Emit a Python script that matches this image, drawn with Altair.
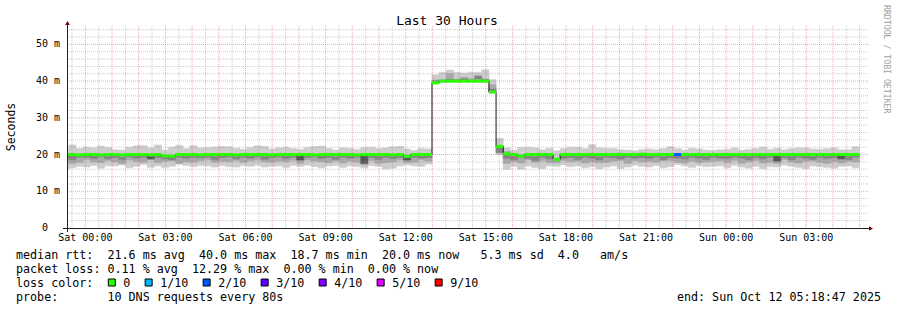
import altair as alt
import pandas as pd

# ------------------------------------------------------------------ data
START_TIME = "2025-10-10T23:18:47"
END_TIME = "2025-10-12T05:18:47"
FIRST_BIN = "2025-10-10T23:07:00"
BIN_MINUTES = 16

# median rtt per bin (ms)
med = [
    19.9, 20.0, 19.9, 20.0, 20.0, 19.9, 20.0, 20.0, 19.9, 20.0,
    20.0, 20.0, 19.9, 20.0, 19.6, 19.6, 20.0, 20.0, 20.0, 19.9,
    20.0, 20.0, 20.0, 20.0, 19.9, 20.0, 20.0, 20.0, 20.0, 19.9,
    20.0, 20.0, 20.0, 20.0, 20.0, 19.9, 20.0, 20.0, 20.0, 20.0,
    20.0, 19.9, 20.0, 20.0, 20.0, 20.0, 19.9, 20.0, 19.5, 20.0,
    20.0, 20.0,
    39.5, 40.0, 40.0, 40.0, 40.0, 40.0, 40.0, 40.0,
    37.0, 22.2,
    20.2, 20.0, 19.6, 20.0, 20.0, 20.0, 20.0, 18.7, 20.0, 20.0,
    20.0, 20.0, 20.0, 20.0, 20.0, 20.0, 20.0, 20.0, 20.0, 20.1,
    20.0, 20.0, 20.0, 20.0, 20.0, 20.0, 20.0, 20.0, 20.0, 20.0,
    20.0, 20.0, 20.0, 20.0, 20.0, 20.0, 20.0, 20.0, 20.0, 20.0,
    20.0, 20.0, 20.0, 20.0, 20.0, 20.0, 20.0, 20.0, 20.0, 20.0,
]
# outer smoke band (min / max ping)
lo = [
    16.0, 16.4, 16.8, 16.6, 17.0, 16.3, 16.9, 16.9, 17.2, 16.4,
    16.8, 17.3, 16.5, 16.9, 16.5, 16.8, 17.4, 17.0, 16.7, 17.0,
    16.9, 16.6, 17.0, 16.7, 16.6, 17.0, 16.8, 17.1, 16.6, 16.8,
    16.9, 16.5, 17.0, 16.8, 17.1, 16.7, 16.4, 16.9, 17.0, 16.5,
    16.9, 16.7, 16.4, 17.0, 16.8, 16.1, 16.3, 16.9, 17.2, 16.9,
    16.8, 17.4,
    39.3, 39.6, 39.6, 39.6, 39.6, 39.6, 39.6, 39.6,
    36.8, 20.0,
    16.0, 16.8, 16.0, 16.9, 16.5, 16.2, 16.9, 16.8, 17.2, 16.7,
    16.9, 16.4, 16.7, 16.1, 16.6, 16.9, 16.2, 16.6, 17.1, 16.8,
    16.6, 17.0, 16.4, 16.7, 17.3, 16.9, 16.5, 17.0, 16.7, 16.8,
    16.9, 16.4, 17.1, 16.6, 16.3, 16.8, 16.2, 16.7, 16.6, 17.1,
    16.8, 16.5, 16.2, 16.9, 16.7, 16.5, 16.3, 16.8, 16.9, 16.4,
]
hi = [
    21.5, 22.6, 21.6, 22.0, 21.8, 22.3, 21.9, 21.3, 21.2, 22.0,
    22.4, 22.4, 21.8, 22.6, 21.2, 22.0, 22.5, 21.6, 22.4, 21.8,
    21.9, 22.0, 22.2, 22.1, 21.7, 21.4, 21.9, 22.4, 22.2, 21.5,
    21.8, 22.0, 21.6, 21.4, 21.9, 22.2, 22.3, 21.6, 21.2, 21.8,
    21.7, 21.4, 21.9, 22.0, 21.6, 21.8, 22.1, 22.2, 21.5, 21.1,
    21.6, 21.5,
    41.7, 42.4, 43.0, 42.4, 42.2, 42.4, 42.4, 43.1,
    40.4, 24.4,
    21.8, 21.2, 21.9, 22.0, 21.8, 21.3, 21.7, 21.0, 21.6, 22.0,
    22.0, 21.6, 22.7, 21.8, 21.7, 21.6, 21.3, 21.2, 21.0, 21.4,
    21.5, 21.3, 21.6, 22.1, 21.6, 21.2, 21.7, 21.5, 21.2, 21.1,
    21.3, 21.4, 21.8, 21.2, 21.4, 21.6, 22.0, 21.4, 21.7, 21.3,
    21.6, 21.8, 21.8, 21.5, 21.4, 21.6, 21.8, 21.3, 21.3, 22.1,
]
# middle smoke band
mlo = [
    18.3, 17.6, 17.9, 18.6, 18.0, 17.8, 18.4, 18.0, 17.5, 18.5,
    18.1, 17.9, 18.6, 17.8, 18.2, 18.4, 17.6, 18.0, 17.9, 18.3,
    18.6, 17.9, 18.2, 18.0, 18.4, 17.9, 18.3, 18.5, 18.0, 17.9,
    18.2, 18.0, 18.4, 17.6, 18.5, 18.2, 18.0, 17.8, 18.3, 17.7,
    18.2, 17.9, 17.2, 18.4, 17.6, 17.8, 18.0, 18.5, 17.8, 17.9,
    18.6, 18.2,
    39.6, 39.9, 39.9, 39.9, 39.9, 39.9, 39.9, 39.9,
    37.2, 20.4,
    17.6, 18.1, 17.7, 18.6, 17.9, 18.3, 17.8, 17.8, 18.4, 18.1,
    18.2, 17.7, 18.0, 17.8, 17.9, 18.2, 18.4, 17.6, 18.3, 18.0,
    18.1, 17.9, 18.3, 18.4, 17.9, 17.7, 18.2, 17.8, 18.0, 18.2,
    18.3, 17.8, 18.4, 17.6, 18.0, 18.4, 17.7, 17.9, 17.6, 18.6,
    18.0, 17.7, 18.2, 18.3, 17.9, 17.6, 18.1, 17.7, 18.2, 18.0,
]
mhi = [
    19.8, 20.0, 19.8, 19.9, 20.0, 19.8, 20.0, 19.9, 19.8, 20.1,
    20.0, 19.9, 19.8, 20.0, 19.6, 19.6, 20.0, 19.9, 20.1, 19.8,
    20.0, 19.9, 20.0, 20.0, 19.8, 20.0, 19.9, 20.1, 20.0, 19.8,
    20.0, 19.9, 20.0, 20.1, 19.9, 19.8, 20.0, 19.9, 20.0, 20.0,
    20.1, 19.8, 20.0, 19.9, 20.0, 20.1, 19.8, 20.0, 19.5, 19.9,
    20.0, 20.0,
    40.3, 40.2, 42.0, 40.4, 41.0, 40.6, 41.5, 40.5,
    39.0, 22.5,
    20.8, 20.0, 19.6, 20.0, 19.9, 20.1, 19.9, 18.7, 20.0, 19.9,
    20.0, 19.9, 20.1, 20.0, 19.8, 20.0, 19.9, 20.0, 20.1, 19.9,
    20.0, 19.8, 20.0, 20.1, 20.0, 19.9, 20.0, 19.8, 20.0, 20.0,
    19.9, 20.0, 20.1, 19.8, 20.0, 19.9, 20.0, 20.0, 20.1, 19.8,
    20.0, 19.9, 20.0, 20.1, 19.8, 20.0, 19.9, 20.0, 20.0, 19.9,
]
# inner (dark) smoke band
dlo = [
    19.2, 18.6, 19.3, 19.3, 18.9, 19.4, 18.8, 19.2, 18.6, 19.4,
    19.0, 19.3, 18.8, 19.2, 18.8, 18.5, 19.3, 19.0, 19.3, 19.1,
    19.3, 18.6, 19.2, 19.4, 18.8, 19.3, 19.0, 19.4, 18.7, 19.2,
    19.4, 18.9, 19.3, 18.5, 19.2, 19.4, 18.9, 19.2, 18.6, 19.3,
    19.0, 19.3, 17.6, 19.2, 18.7, 19.3, 18.9, 19.2, 18.5, 19.3,
    19.0, 19.2,
    40.0, 40.0, 40.2, 40.0, 40.2, 40.0, 40.6, 40.0,
    37.0, 20.6,
    19.0, 18.6, 19.2, 18.9, 18.4, 19.3, 18.8, 18.6, 19.0, 19.2,
    18.7, 19.3, 19.0, 18.6, 19.3, 19.1, 18.8, 19.3, 19.0, 19.2,
    18.9, 19.3, 18.6, 19.2, 19.0, 18.8, 19.3, 19.0, 18.7, 19.3,
    19.0, 18.9, 19.3, 19.0, 18.6, 19.2, 18.8, 19.3, 18.2, 19.2,
    18.6, 19.3, 19.0, 18.7, 19.3, 18.9, 19.2, 18.8, 18.6, 19.3,
]
dhi = [
    19.8, 19.6, 19.8, 19.9, 19.7, 19.8, 19.5, 19.9, 19.3, 19.8,
    19.7, 19.8, 19.9, 19.8, 19.5, 19.4, 19.8, 19.6, 19.8, 19.7,
    19.8, 19.4, 19.8, 19.9, 19.6, 19.8, 19.7, 19.9, 19.5, 19.8,
    19.9, 19.6, 19.8, 19.8, 19.7, 19.9, 19.6, 19.8, 19.4, 19.8,
    19.7, 19.8, 19.7, 19.8, 19.5, 19.8, 19.6, 19.8, 19.4, 19.8,
    19.7, 19.8,
    40.0, 40.3, 40.5, 40.4, 40.6, 40.3, 41.3, 40.4,
    37.8, 21.8,
    19.8, 19.5, 19.5, 19.7, 19.4, 19.8, 19.6, 18.6, 19.7, 19.8,
    19.5, 19.8, 19.7, 19.4, 19.8, 19.7, 19.6, 19.8, 19.7, 19.8,
    19.6, 19.8, 19.4, 19.8, 19.7, 19.5, 19.8, 19.7, 19.5, 19.8,
    19.8, 19.6, 19.8, 19.7, 19.5, 19.8, 19.6, 19.8, 19.7, 19.8,
    19.5, 19.8, 19.7, 19.5, 19.8, 19.6, 19.8, 19.6, 19.5, 19.8,
]
# darkness level of the inner band (1 = dark, 2 = darker)
dlev = [
    1, 1, 1, 1, 1, 1, 1, 1, 1, 1,
    1, 1, 2, 1, 1, 1, 1, 1, 1, 1,
    1, 1, 1, 1, 1, 1, 1, 1, 1, 1,
    1, 1, 1, 2, 1, 1, 1, 1, 1, 1,
    1, 1, 2, 1, 1, 1, 1, 1, 2, 1,
    1, 1,
    1, 1, 1, 1, 1, 1, 1, 1,
    1, 1,
    1, 1, 1, 1, 1, 1, 1, 1, 1, 1,
    1, 1, 1, 1, 1, 1, 1, 1, 1, 1,
    1, 1, 1, 1, 1, 1, 1, 1, 1, 1,
    1, 1, 1, 1, 1, 1, 1, 1, 2, 1,
    1, 1, 1, 1, 1, 1, 1, 2, 1, 1,
]
# loss level (tenths) per bin
loss = [
    0, 0, 0, 0, 0, 0, 0, 0, 0, 0,
    0, 0, 0, 0, 0, 0, 0, 0, 0, 0,
    0, 0, 0, 0, 0, 0, 0, 0, 0, 0,
    0, 0, 0, 0, 0, 0, 0, 0, 0, 0,
    0, 0, 0, 0, 0, 0, 0, 0, 0, 0,
    0, 0,
    0, 0, 0, 0, 0, 0, 0, 0,
    0, 0,
    0, 0, 0, 0, 0, 0, 0, 0, 0, 0,
    0, 0, 0, 0, 0, 0, 0, 0, 0, 0,
    0, 0, 0, 0, 2, 0, 0, 0, 0, 0,
    0, 0, 0, 0, 0, 0, 0, 0, 0, 0,
    0, 0, 0, 0, 0, 0, 0, 0, 0, 0,
]

loss_levels = [0, 1, 2, 3, 4, 5, 9]
loss_labels = ["0", "1/10", "2/10", "3/10", "4/10", "5/10", "9/10"]
loss_colors = ["#26ff00", "#00b8ff", "#0059ff", "#5e00ff", "#7e00ff", "#dd00ff", "#ff0000"]

y_major = [10, 20, 30, 40, 50]
y_ticks = [10, 20, 30, 40, 50]
y_tick_labels = ["10 m", "20 m", "30 m", "40 m", "50 m"]
y_zero_tick = [0]
y_zero_label = ["0"]
y_minor = [2, 4, 6, 8, 12, 14, 16, 18, 22, 24, 26, 28, 32, 34, 36, 38, 42, 44, 46, 48, 52, 54]
x_ticks = ["2025-10-11T00:00", "2025-10-11T03:00", "2025-10-11T06:00", "2025-10-11T09:00",
           "2025-10-11T12:00", "2025-10-11T15:00", "2025-10-11T18:00", "2025-10-11T21:00",
           "2025-10-12T00:00", "2025-10-12T03:00"]
x_tick_labels = ["Sat 00:00", "Sat 03:00", "Sat 06:00", "Sat 09:00", "Sat 12:00",
                 "Sat 15:00", "Sat 18:00", "Sat 21:00", "Sun 00:00", "Sun 03:00"]

title_text = "Last 30 Hours"
y_title = "Seconds"
watermark = "RRDTOOL / TOBI OETIKER"
line1 = "median rtt:  21.6 ms avg  40.0 ms max  18.7 ms min  20.0 ms now   5.3 ms sd  4.0   am/s"
line2 = "packet loss: 0.11 % avg  12.29 % max  0.00 % min  0.00 % now"
line3 = "loss color:"
line4 = "probe:       10 DNS requests every 80s"
end_text = "end: Sun Oct 12 05:18:47 2025"

# ------------------------------------------------------------------ build
NB = "\u00a0"


def ms(s):
    return int(pd.Timestamp(s).value // 1_000_000)


t0 = ms(FIRST_BIN)
step = BIN_MINUTES * 60 * 1000
n = len(med)
bins = pd.DataFrame({
    "t": [t0 + i * step for i in range(n)],
    "t2": [t0 + (i + 1) * step for i in range(n)],
    "med": med, "lo": lo, "hi": hi, "mlo": mlo, "mhi": mhi,
    "dlo": dlo, "dhi": dhi, "dlev": dlev, "loss": loss,
})
line_df = pd.DataFrame({"t": list(bins["t"]) + [int(bins["t2"].iloc[-1])],
                        "med": med + [med[-1]]})

start_ms, end_ms = ms(START_TIME), ms(END_TIME)
hours = list(range(ms("2025-10-11T00:00"), end_ms + 1, 3600 * 1000))
halves = list(range(ms("2025-10-10T23:30"), end_ms + 1, 3600 * 1000))

xlab = pd.DataFrame({"t": [ms(s) for s in x_ticks],
                     "label": [s.replace(" ", NB) for s in x_tick_labels]})
ylab = pd.DataFrame({"v": y_ticks, "label": [s.replace(" ", NB) for s in y_tick_labels]})
ylab0 = pd.DataFrame({"v": y_zero_tick, "label": y_zero_label})

W, H = 801, 202
OX, OY = 67, 26
FONT = "DejaVu Sans Mono"

xs = alt.Scale(type="utc", domain=[start_ms, end_ms])
ys = alt.Scale(domain=[0, 55], nice=False, zero=True)

X = lambda f="t": alt.X(f"{f}:T", scale=xs, axis=None)
Y = lambda f: alt.Y(f"{f}:Q", scale=ys, axis=None)

layers = []

# smoke
layers.append(alt.Chart(bins).mark_rect(fill="#cdcdcd", stroke="#cdcdcd", strokeWidth=0.6, clip=True).encode(
    x=X(), x2="t2:T", y=Y("lo"), y2="hi:Q"))
layers.append(alt.Chart(bins).mark_rect(fill="#a8a8a8", stroke="#a8a8a8", strokeWidth=0.6, clip=True).encode(
    x=X(), x2="t2:T", y=Y("mlo"), y2="mhi:Q"))
layers.append(alt.Chart(bins).mark_rect(strokeWidth=0.6, clip=True).encode(
    x=X(), x2="t2:T", y=Y("dlo"), y2="dhi:Q",
    fill=alt.Fill("dlev:O", scale=alt.Scale(domain=[1, 2], range=["#848484", "#555555"]), legend=None),
    stroke=alt.Stroke("dlev:O", scale=alt.Scale(domain=[1, 2], range=["#848484", "#555555"]), legend=None)))

# grid
layers.append(alt.Chart(pd.DataFrame({"v": y_minor})).mark_rule(
    color="#8f8f8f", opacity=0.45, strokeDash=[1, 1], strokeWidth=1).encode(y=Y("v")))
layers.append(alt.Chart(pd.DataFrame({"t": halves})).mark_rule(
    color="#8f8f8f", opacity=0.45, strokeDash=[1, 1], strokeWidth=1).encode(x=X()))
layers.append(alt.Chart(pd.DataFrame({"t": hours})).mark_rule(
    color="#e85050", opacity=0.5, strokeDash=[1, 1], strokeWidth=1).encode(x=X()))
layers.append(alt.Chart(pd.DataFrame({"v": y_major})).mark_rule(
    color="#e85050", opacity=0.5, strokeDash=[1, 1], strokeWidth=1).encode(y=Y("v")))

# median line
layers.append(alt.Chart(line_df).mark_line(interpolate="step-after", color="#1a1a1a", strokeWidth=1, clip=True).encode(
    x=X(), y=Y("med")))
layers.append(alt.Chart(bins).mark_rule(strokeWidth=3, clip=True).encode(
    x=X(), x2="t2:T", y=Y("med"),
    color=alt.Color("loss:O", scale=alt.Scale(domain=loss_levels, range=loss_colors), legend=None)))

# tick labels
layers.append(alt.Chart(xlab).mark_text(font=FONT, fontSize=10, align="center", baseline="middle", color="#000000").encode(
    x=X(), y=alt.value(H + 10.3), text="label:N"))
layers.append(alt.Chart(ylab).mark_text(font=FONT, fontSize=10, align="right", baseline="middle", color="#000000").encode(
    y=Y("v"), x=alt.value(-7), text="label:N"))
layers.append(alt.Chart(ylab0).mark_text(font=FONT, fontSize=10, align="right", baseline="middle", color="#000000").encode(
    y=Y("v"), x=alt.value(-19), text="label:N"))

dummy = pd.DataFrame({"a": [0]})

# axis lines and arrows
layers.append(alt.Chart(dummy).mark_rule(color="#1f1f1f", strokeWidth=1).encode(
    x=alt.value(-4), x2=alt.value(W + 2), y=alt.value(H + 0.5)))
layers.append(alt.Chart(dummy).mark_rule(color="#1f1f1f", strokeWidth=1).encode(
    x=alt.value(0.5), y=alt.value(H + 4), y2=alt.value(-3)))
layers.append(alt.Chart(dummy).mark_point(shape="triangle-up", filled=True, size=22, color="#7f0000", opacity=1).encode(
    x=alt.value(0.5), y=alt.value(-3)))
layers.append(alt.Chart(dummy).mark_point(shape="triangle-right", filled=True, size=22, color="#7f0000", opacity=1).encode(
    x=alt.value(W + 3), y=alt.value(H + 0.5)))


def text(s, x, y, size=11.7, align="left", angle=0, color="#000000"):
    return alt.Chart(dummy).mark_text(
        text=s.replace(" ", NB), font=FONT, fontSize=size, align=align, baseline="middle",
        angle=angle, color=color).encode(x=alt.value(x - OX), y=alt.value(y - OY))


layers.append(text(title_text, 447, 20.5, size=13, align="center"))
layers.append(text(y_title, 12, 127, size=11.5, align="center", angle=270))
layers.append(text(watermark, 886, 5, size=8.2, align="left", angle=90, color="#a0a0a0"))
layers.append(text(line1, 16, 254.8))
layers.append(text(line2, 16, 269))
layers.append(text(line3, 16, 283.3))
layers.append(text(line4, 16, 297.2))
layers.append(text(end_text, 881, 297.2, align="right"))

# loss colour legend
cw = 7.05
xpos, lx = [], 108.3
for lab in loss_labels:
    xpos.append(lx)
    lx += len(lab) * cw + 29.8
leg = pd.DataFrame({
    "x": [v - OX for v in xpos],
    "x2": [v - OX + 7 for v in xpos],
    "tx": [v - OX + 15 for v in xpos],
    "y": [279 - OY] * len(xpos),
    "y2": [286 - OY] * len(xpos),
    "ty": [283.3 - OY] * len(xpos),
    "label": loss_labels,
    "level": loss_levels,
})
layers.append(alt.Chart(leg).mark_rect(stroke="#000000", strokeWidth=1).encode(
    x=alt.X("x:Q", scale=None), x2="x2:Q", y=alt.Y("y:Q", scale=None), y2="y2:Q",
    fill=alt.Fill("level:O", scale=alt.Scale(domain=loss_levels, range=loss_colors), legend=None)))
layers.append(alt.Chart(leg).mark_text(font=FONT, fontSize=11.7, align="left", baseline="middle", color="#000000").encode(
    x=alt.X("tx:Q", scale=None), y=alt.Y("ty:Q", scale=None), text="label:N"))

chart = alt.layer(*layers).resolve_scale(fill="independent", stroke="independent", color="independent").properties(
    width=W, height=H,
    autosize=alt.AutoSizeParams(type="none"),
    padding={"left": OX, "top": OY, "right": 897 - OX - W, "bottom": 310 - OY - H},
    background="#ffffff",
).configure_view(stroke=None)

chart.save("out.html", embed_options={"renderer": "svg", "actions": False})
